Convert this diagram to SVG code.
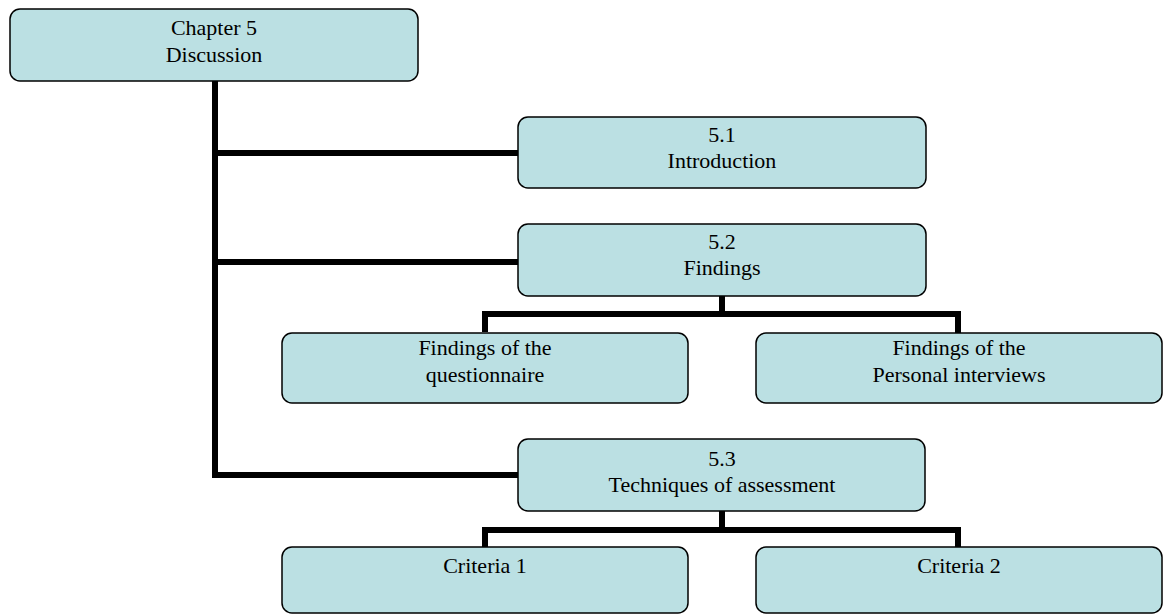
<svg xmlns="http://www.w3.org/2000/svg" width="1168" height="616" viewBox="0 0 1168 616">
<style>
.box{fill:#BBE0E3;stroke:#000;stroke-width:1.5}
.t{font-family:"Liberation Serif","Times New Roman",serif;font-size:22px;fill:#000;text-anchor:middle}
.c{fill:none;stroke:#000;stroke-width:6;stroke-linejoin:miter;stroke-linecap:butt}
</style>
<rect width="1168" height="616" fill="#fff"/>
<g id="connectors">
<path class="c" d="M215,81 V475 H518"/>
<path class="c" d="M215,153 H518"/>
<path class="c" d="M215,262 H518"/>
<path class="c" d="M722,296 V314 M485,332 V314 H958 V333"/>
<path class="c" d="M722,511 V530 M485,547 V530 H958 V547"/>
</g>
<g id="chapter5">
<rect class="box" x="10" y="9" width="408" height="72" rx="10"/>
<text class="t" x="214" y="35">Chapter 5</text>
<text class="t" x="214" y="62">Discussion</text>
</g>
<g id="intro">
<rect class="box" x="518" y="117" width="408" height="71" rx="10"/>
<text class="t" x="722" y="142">5.1</text>
<text class="t" x="722" y="168">Introduction</text>
</g>
<g id="findings">
<rect class="box" x="518" y="224" width="408" height="72" rx="10"/>
<text class="t" x="722" y="249">5.2</text>
<text class="t" x="722" y="275">Findings</text>
</g>
<g id="questionnaire">
<rect class="box" x="282" y="333" width="406" height="70" rx="10"/>
<text class="t" x="485" y="355">Findings of the</text>
<text class="t" x="485" y="382">questionnaire</text>
</g>
<g id="interviews">
<rect class="box" x="756" y="333" width="406" height="70" rx="10"/>
<text class="t" x="959" y="355">Findings of the</text>
<text class="t" x="959" y="382">Personal interviews</text>
</g>
<g id="techniques">
<rect class="box" x="518" y="439" width="407" height="72" rx="10"/>
<text class="t" x="722" y="466">5.3</text>
<text class="t" x="722" y="492">Techniques of assessment</text>
</g>
<g id="criteria1">
<rect class="box" x="282" y="547" width="406" height="66" rx="10"/>
<text class="t" x="485" y="573">Criteria 1</text>
</g>
<g id="criteria2">
<rect class="box" x="756" y="547" width="406" height="66" rx="10"/>
<text class="t" x="959" y="573">Criteria 2</text>
</g>
</svg>
